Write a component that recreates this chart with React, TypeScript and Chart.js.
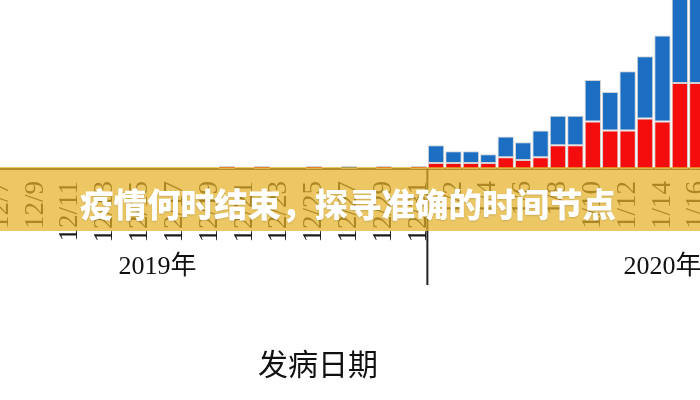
import { useEffect, useRef } from "react"
import { Chart, registerables } from "chart.js"

Chart.register(...registerables)

// 发病日期（2019/12/7 — 2020/1/16）
const dates = [
  "12/7", "12/8", "12/9", "12/10", "12/11", "12/12", "12/13", "12/14", "12/15", "12/16",
  "12/17", "12/18", "12/19", "12/20", "12/21", "12/22", "12/23", "12/24", "12/25", "12/26",
  "12/27", "12/28", "12/29", "12/30", "12/31",
  "1/1", "1/2", "1/3", "1/4", "1/5", "1/6", "1/7", "1/8", "1/9", "1/10",
  "1/11", "1/12", "1/13", "1/14", "1/15", "1/16",
]

const redCases = [
  0, 0, 0, 0, 0, 0, 0, 0, 0, 0,
  0, 0, 0, 1, 0, 1, 0, 0, 1, 0,
  0, 0, 1, 0, 1,
  2, 2, 2, 2, 4, 3, 4, 8, 8, 16,
  13, 13, 17, 16, 29, 29,
]

const blueCases = [
  0, 0, 0, 0, 0, 0, 0, 0, 0, 0,
  0, 0, 0, 0, 0, 0, 0, 0, 0, 0,
  1, 0, 0, 0, 0,
  6, 4, 4, 3, 7, 6, 9, 10, 10, 14,
  13, 20, 21, 29, 40, 35,
]

const yearLabels = [
  { text: "2019年", at: 9 },
  { text: "2020年", at: 38 },
]
const yearSplit = 24 // 12/31 之后分隔
const axisTitle = "发病日期"
const bannerText = "疫情何时结束，探寻准确的时间节点"

const yearPlugin = {
  id: "yearMarks",
  afterDraw(chart: Chart) {
    const ctx = chart.ctx
    const x = chart.scales.x
    const bottom = chart.chartArea.bottom
    ctx.save()
    const splitX = (x.getPixelForValue(yearSplit) + x.getPixelForValue(yearSplit + 1)) / 2
    ctx.strokeStyle = "#222"
    ctx.lineWidth = 2
    ctx.beginPath()
    ctx.moveTo(splitX, bottom)
    ctx.lineTo(splitX, bottom + 116)
    ctx.stroke()

    ctx.fillStyle = "#111"
    ctx.textAlign = "center"
    ctx.textBaseline = "middle"
    ctx.font = '26px "Liberation Serif", "Noto Sans CJK SC"'
    yearLabels.forEach((y) => {
      ctx.fillText(y.text, x.getPixelForValue(y.at), bottom + 98)
    })
    ctx.font = '30px "Noto Sans CJK SC"'
    ctx.fillText(axisTitle, 326, bottom + 195)
    ctx.restore()
  },
}

export default function App() {
  const chartRef = useRef<HTMLCanvasElement>(null)
  const chartInstance = useRef<Chart | null>(null)

  useEffect(() => {
    if (!chartRef.current) return
    if (chartInstance.current) chartInstance.current.destroy()

    chartInstance.current = new Chart(chartRef.current, {
      type: "bar",
      data: {
        labels: dates,
        datasets: [
          {
            label: "红色",
            data: redCases,
            backgroundColor: "#f50d0d",
            borderColor: "rgba(205,205,205,0.9)",
            borderWidth: 1,
            borderSkipped: false,
          },
          {
            label: "蓝色",
            data: blueCases,
            backgroundColor: "#1b6ec2",
            borderColor: "rgba(205,205,205,0.9)",
            borderWidth: 1,
            borderSkipped: false,
          },
        ],
      },
      options: {
        responsive: false,
        animation: false,
        layout: { padding: 0 },
        datasets: {
          bar: { categoryPercentage: 0.94, barPercentage: 1 },
        },
        scales: {
          x: {
            stacked: true,
            grid: { display: false },
            border: { display: true, color: "#333", width: 2 },
            ticks: {
              autoSkip: false,
              minRotation: 90,
              maxRotation: 90,
              padding: 4,
              color: "#1a1a1a",
              font: { family: '"Liberation Serif", serif', size: 27 },
              callback: (_v, i) => (i % 2 === 0 ? dates[i] : ""),
            },
            afterFit: (scale) => {
              scale.height = 231
              scale.paddingLeft = 0
              scale.paddingRight = 0
            },
          },
          y: {
            stacked: true,
            display: false,
            min: 0,
            max: 57,
          },
        },
        plugins: {
          legend: { display: false },
          tooltip: { enabled: false },
        },
      },
      plugins: [yearPlugin],
    })

    return () => {
      if (chartInstance.current) {
        chartInstance.current.destroy()
        chartInstance.current = null
      }
    }
  }, [])

  return (
    <div
      style={{
        position: "absolute",
        left: 0,
        top: 0,
        width: 700,
        height: 400,
        overflow: "hidden",
        background: "#fff",
      }}
    >
      <canvas ref={chartRef} width={714} height={400} style={{ position: "absolute", left: -8, top: 0 }} />

      {/* 标题横幅 */}
      <div
        style={{
          position: "absolute",
          left: 0,
          top: 167,
          width: 700,
          height: 64,
          background: "rgba(228,178,40,0.72)",
        }}
      >
        <div
          style={{
            position: "absolute",
            left: 80,
            top: 19,
            fontFamily: '"Noto Sans CJK SC", sans-serif',
            fontWeight: 900,
            fontSize: 33.5,
            lineHeight: "34px",
            color: "#fff",
            whiteSpace: "nowrap",
            textShadow: "0 1px 2px rgba(0,0,0,0.15)",
          }}
        >
          {bannerText}
        </div>
      </div>
    </div>
  )
}
